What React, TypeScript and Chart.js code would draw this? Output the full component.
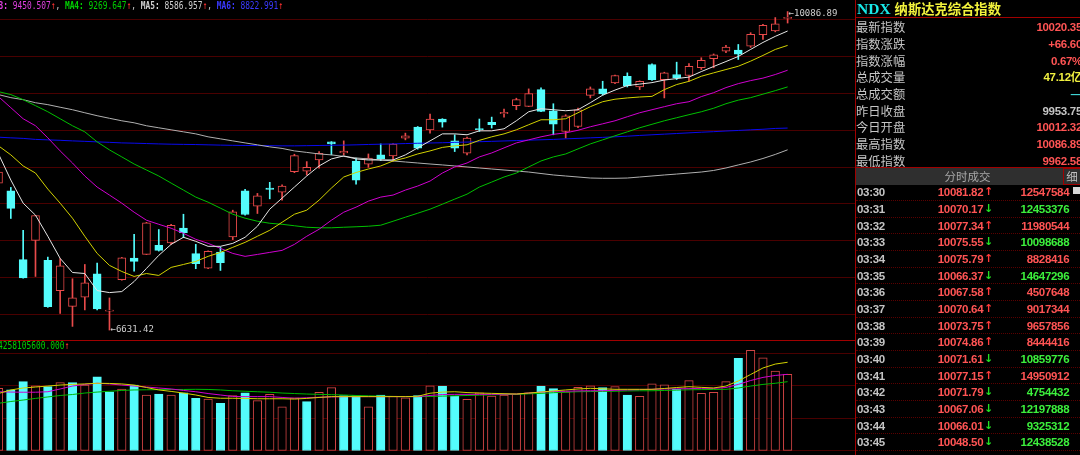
import React, { useEffect, useRef } from "react";
import { Chart, registerables } from "chart.js";

Chart.register(...registerables);

// ---------------- price candles (daily) ----------------
const OPEN = [8226, 8142, 7395, 7605, 7387, 7060, 6889, 6987, 7242, 6837, 7177, 7412, 7452, 7551, 7576, 7739, 7460, 7303, 7478, 7641, 8142, 7976, 8172, 8128, 8350, 8354, 8477, 8673, 8553, 8466, 8430, 8532, 8521, 8714, 8833, 8804, 8921, 8684, 8550, 8818, 8884, 8978, 9066, 9058, 9240, 9011, 8786, 8840, 9178, 9248, 9313, 9385, 9269, 9513, 9349, 9404, 9393, 9477, 9575, 9657, 9668, 9712, 9836, 9876, 10012.32];
const HIGH = [8390, 8179, 7714, 7876, 7423, 7406, 7188, 7343, 7358, 6980, 7420, 7670, 7800, 7722, 7779, 7888, 7561, 7490, 7532, 7932, 8158, 8114, 8234, 8208, 8539, 8459, 8568, 8676, 8684, 8496, 8542, 8651, 8655, 8768, 8840, 8975, 8925, 8750, 8724, 8921, 8942, 9030, 9147, 9248, 9259, 9087, 8968, 9041, 9269, 9331, 9398, 9422, 9336, 9520, 9429, 9538, 9523, 9586, 9627, 9720, 9730, 9858, 9948, 10022, 10086.89];
const LOW = [8194, 7842, 7195, 7213, 6878, 6813, 6671, 6850, 6850, 6631.42, 7172, 7270, 7450, 7488, 7561, 7634, 7297, 7298, 7278, 7613, 7877, 7896, 8055, 8041, 8339, 8314, 8387, 8532, 8532, 8215, 8397, 8469, 8463, 8695, 8594, 8768, 8833, 8568, 8532, 8786, 8823, 8942, 9022, 9055, 9000, 8750, 8714, 8826, 9150, 9180, 9305, 9269, 9240, 9341, 9150, 9349, 9331, 9458, 9477, 9640, 9567, 9698, 9785, 9867, 9962.58];
const CLOSE = [8346, 7951, 7198, 7874, 6886, 7329, 6980, 7144, 6861, 6847, 7416, 7376, 7794, 7496, 7769, 7689, 7351, 7485, 7362, 7914, 7885, 8088, 8158, 8194, 8524, 8397, 8550, 8651, 8572, 8259, 8496, 8491, 8648, 8739, 8605, 8921, 8888, 8605, 8714, 8804, 8859, 8993, 9131, 9196, 9004, 8866, 8957, 9022, 9248, 9193, 9393, 9284, 9331, 9349, 9422, 9368, 9494, 9559, 9618, 9701, 9625, 9840, 9938, 9953.75, 10020.35];

// ---------------- moving averages ----------------
const MA1 = [8542, 8259, 8008, 7878, 7649, 7409, 7256, 7245, 7060, 7038, 7049, 7158, 7300, 7442, 7561, 7638, 7594, 7540, 7540, 7572, 7638, 7758, 7943, 8063, 8183, 8303, 8412, 8488, 8521, 8488, 8477, 8477, 8477, 8532, 8608, 8684, 8760, 8760, 8750, 8793, 8793, 8815, 8902, 9000, 9033, 9022, 9011, 9022, 9098, 9180, 9235, 9284, 9300, 9316, 9344, 9360, 9376, 9436, 9491, 9545, 9600, 9676, 9752, 9818, 9876];
const MA2 = [8630, 8532, 8412, 8335, 8161, 8008, 7845, 7649, 7463, 7333, 7267, 7213, 7245, 7224, 7311, 7343, 7376, 7431, 7474, 7529, 7583, 7649, 7714, 7801, 7888, 7932, 8041, 8172, 8292, 8341, 8379, 8412, 8466, 8499, 8542, 8575, 8613, 8630, 8641, 8690, 8728, 8760, 8804, 8859, 8913, 8913, 8924, 8989, 9055, 9109, 9136, 9150, 9160, 9167, 9240, 9295, 9330, 9385, 9422, 9458, 9494, 9549, 9611, 9676, 9720];
const MA3 = [9164, 9044, 8924, 8848, 8717, 8575, 8444, 8303, 8183, 8096, 8008, 7910, 7823, 7779, 7736, 7681, 7616, 7572, 7518, 7463, 7431, 7452, 7474, 7496, 7561, 7649, 7725, 7823, 7910, 7965, 8030, 8074, 8096, 8150, 8194, 8248, 8335, 8401, 8444, 8510, 8553, 8608, 8662, 8695, 8728, 8755, 8771, 8799, 8837, 8869, 8902, 8946, 8989, 9022, 9055, 9087, 9109, 9164, 9207, 9262, 9305, 9338, 9365, 9404, 9450.507];
const MA4 = [9218, 9186, 9131, 9066, 9000, 8924, 8848, 8782, 8673, 8586, 8510, 8433, 8368, 8303, 8226, 8150, 8074, 8019, 7954, 7888, 7845, 7812, 7790, 7779, 7763, 7747, 7741, 7741, 7747, 7752, 7758, 7769, 7812, 7856, 7899, 7943, 7997, 8052, 8106, 8183, 8237, 8292, 8335, 8401, 8466, 8510, 8542, 8597, 8651, 8695, 8739, 8782, 8826, 8864, 8902, 8935, 8968, 9000, 9038, 9087, 9126, 9153, 9191, 9229, 9269.647];
const MA5 = [9186, 9153, 9131, 9098, 9077, 9049, 9022, 8989, 8957, 8929, 8902, 8880, 8848, 8826, 8804, 8782, 8760, 8728, 8706, 8684, 8662, 8641, 8619, 8602, 8575, 8559, 8542, 8532, 8515, 8499, 8488, 8477, 8466, 8455, 8444, 8433, 8423, 8412, 8401, 8390, 8379, 8368, 8357, 8346, 8330, 8314, 8303, 8292, 8281, 8278, 8278, 8281, 8292, 8303, 8314, 8324, 8335, 8346, 8363, 8390, 8423, 8455, 8493, 8537, 8586.957];
const MA6 = [8724, 8717, 8711, 8700, 8695, 8690, 8684, 8679, 8673, 8668, 8662, 8659, 8655, 8651, 8648, 8646, 8644, 8641, 8638, 8636, 8634, 8633, 8632, 8630, 8630, 8632, 8634, 8636, 8638, 8641, 8645, 8648, 8651, 8655, 8658, 8661, 8664, 8668, 8671, 8675, 8679, 8683, 8687, 8692, 8696, 8700, 8706, 8711, 8717, 8722, 8728, 8735, 8743, 8750, 8757, 8764, 8771, 8778, 8784, 8791, 8797, 8804, 8810, 8819, 8822.991];

// ---------------- volume (亿) ----------------
const VOLUME = [38.5, 37.5, 42.6, 40.1, 39.5, 42.0, 42.0, 40.5, 45.6, 36.4, 38.1, 40.5, 34.4, 35.0, 34.4, 35.8, 32.4, 31.9, 29.3, 34.0, 35.8, 30.9, 34.8, 27.2, 32.7, 30.3, 36.1, 38.9, 34.0, 34.0, 27.2, 34.4, 33.8, 32.7, 34.0, 40.1, 39.9, 33.8, 31.8, 35.8, 33.8, 34.4, 35.0, 35.8, 39.9, 38.3, 36.4, 39.1, 40.1, 38.9, 39.5, 34.4, 33.6, 41.2, 40.7, 37.9, 43.2, 35.4, 36.1, 42.6, 56.9, 61.9, 57.3, 49.1, 47.12];
const VMA1 = [35.3, 37.5, 38.7, 39.3, 39.9, 40.5, 40.9, 41.2, 41.6, 41.5, 41.2, 40.5, 39.0, 37.5, 36.6, 35.6, 34.4, 32.9, 32.4, 32.4, 32.3, 32.1, 32.1, 32.1, 31.9, 32.3, 32.9, 33.4, 33.4, 33.4, 33.4, 33.4, 33.4, 33.4, 33.6, 35.5, 36.2, 36.4, 35.9, 35.6, 35.4, 35.2, 35.0, 35.6, 36.2, 36.9, 37.5, 38.1, 38.5, 38.2, 37.9, 37.9, 37.9, 37.9, 38.4, 39.0, 39.5, 39.1, 38.7, 39.9, 43.0, 47.0, 51.0, 53.4, 54.5];
const VMA2 = [36.4, 36.2, 36.1, 36.1, 36.4, 38.1, 39.9, 40.9, 41.6, 41.2, 40.5, 39.9, 39.3, 38.7, 38.1, 37.2, 36.4, 35.3, 34.4, 33.5, 33.4, 33.4, 33.4, 32.9, 32.4, 32.7, 33.0, 33.2, 33.4, 33.4, 33.4, 33.4, 33.4, 33.4, 33.4, 34.1, 34.7, 34.8, 34.8, 34.8, 34.8, 34.9, 35.0, 35.6, 36.2, 36.6, 36.7, 36.9, 37.0, 37.0, 37.3, 37.5, 37.7, 37.9, 38.1, 38.2, 38.3, 38.5, 38.5, 39.0, 40.9, 43.3, 45.2, 46.4, 47.1];
const VMA3 = [29.3, 30.4, 31.3, 32.3, 33.2, 34.1, 34.7, 35.6, 36.2, 36.7, 37.2, 37.5, 37.6, 37.7, 37.8, 37.8, 37.9, 37.8, 37.5, 37.0, 36.7, 36.4, 36.1, 35.6, 35.3, 35.0, 34.8, 34.6, 34.4, 34.1, 33.9, 33.7, 33.5, 33.4, 33.4, 33.5, 33.7, 33.9, 34.1, 34.3, 34.5, 34.7, 34.8, 35.1, 35.4, 35.8, 36.1, 36.4, 36.5, 36.6, 36.7, 36.9, 37.0, 37.0, 37.2, 37.4, 37.6, 37.7, 37.8, 37.9, 38.7, 39.9, 40.9, 41.6, 42.581056];

// gridline levels
const PRICE_GRID = [6800, 7200, 7600, 8000, 8400, 8800, 9200, 9600, 10000];
const VOLUME_GRID = [0, 20, 40, 60];

// legend
const MA_NAMES = ["MA3", "MA4", "MA5", "MA6"];
const MA_LAST = [MA3[MA3.length - 1], MA4[MA4.length - 1], MA5[MA5.length - 1], MA6[MA6.length - 1]];

// right panel
const INFO_LABELS = ["最新指数", "指数涨跌", "指数涨幅", "总成交量", "总成交额", "昨日收盘", "今日开盘", "最高指数", "最低指数"];
const INFO_VALUES = ["10020.35", "+66.60", "0.67%", "47.12亿", "—", "9953.75", "10012.32", "10086.89", "9962.58"];
const TRADE_TIMES = ["03:30", "03:31", "03:32", "03:33", "03:34", "03:35", "03:36", "03:37", "03:38", "03:39", "03:40", "03:41", "03:42", "03:43", "03:44", "03:45"];
const TRADE_PRICES = [10081.82, 10070.17, 10077.34, 10075.55, 10075.79, 10066.37, 10067.58, 10070.64, 10073.75, 10074.86, 10071.61, 10077.15, 10071.79, 10067.06, 10066.01, 10048.5];
const TRADE_VOLUMES = [12547584, 12453376, 11980544, 10098688, 8828416, 14647296, 4507648, 9017344, 9657856, 8444416, 10859776, 14950912, 4754432, 12197888, 9325312, 12438528];
const TRADE_UP = [true, false, true, false, true, false, true, true, true, true, false, true, false, false, false, false];

// ---------------- styling ----------------
const X_MIN = 0.1217;
const X_MAX = 69.465;
const PRICE_MIN = 6523.5;
const PRICE_MAX = 10212.5;
const VOL_MIN = -2.46;
const VOL_MAX = 67.57;
const RED = "#e84a4a";
const VRED = "#d24444";
const CYAN = "#54fcfc";
const GRID = "#4a0000";
const BORDER = "#a00000";
const TXT_RED = "#ff5454";
const TXT_GREEN = "#3cf03c";
const TXT_GRAY = "#c4c4c4";
const MA_COLORS = ["#e6e6e6", "#d2d200", "#d000d0", "#00c000", "#b0b0b0", "#0a0aee"];
const LEGEND_COLORS = ["#e040e0", "#00d000", "#d0d0d0", "#3a3aff"];
const VMA_COLORS = ["#d2d200", "#d000d0", "#00b800"];
const INFO_COLORS = [TXT_RED, TXT_RED, TXT_RED, "#f0f040", "#40d8d8", TXT_GRAY, TXT_RED, TXT_RED, TXT_RED];

const IDX = OPEN.map((_, i) => i);

function lineDataset(label: string, data: number[], color: string) {
  return {
    type: "line" as const,
    label,
    data: data.map((v, i) => ({ x: i, y: v })),
    borderColor: color,
    borderWidth: 1,
    pointRadius: 0,
    tension: 0,
    fill: false,
    order: 0,
  };
}

const extremeLabels = {
  id: "extremeLabels",
  afterDatasetsDraw(chart: any) {
    const { ctx } = chart;
    const xs = chart.scales.x;
    const ys = chart.scales.y;
    let hi = 0;
    let lo = 0;
    HIGH.forEach((v, i) => { if (v > HIGH[hi]) hi = i; });
    LOW.forEach((v, i) => { if (v < LOW[lo]) lo = i; });
    ctx.save();
    ctx.font = '9px "DejaVu Sans Mono"';
    ctx.fillStyle = "#cfcfcf";
    ctx.textBaseline = "middle";
    ctx.fillText("←" + HIGH[hi].toFixed(2), xs.getPixelForValue(hi) + 1, ys.getPixelForValue(HIGH[hi]) + 2);
    ctx.fillText("←" + LOW[lo].toFixed(2), xs.getPixelForValue(lo) + 1, ys.getPixelForValue(LOW[lo]));
    ctx.restore();
  },
};

function xScale() {
  return { type: "linear" as const, min: X_MIN, max: X_MAX, display: false, offset: false, grid: { offset: false } };
}

export default function App() {
  const priceRef = useRef<HTMLCanvasElement>(null);
  const volRef = useRef<HTMLCanvasElement>(null);

  useEffect(() => {
    const up = (i: number) => CLOSE[i] >= OPEN[i];
    const priceChart = new Chart(priceRef.current as HTMLCanvasElement, {
      type: "bar",
      data: {
        datasets: [
          lineDataset("MA1", MA1, MA_COLORS[0]),
          lineDataset("MA2", MA2, MA_COLORS[1]),
          lineDataset("MA3", MA3, MA_COLORS[2]),
          lineDataset("MA4", MA4, MA_COLORS[3]),
          lineDataset("MA5", MA5, MA_COLORS[4]),
          lineDataset("MA6", MA6, MA_COLORS[5]),
          {
            type: "bar",
            label: "body",
            data: IDX.map((i) => ({ x: i, y: [OPEN[i], CLOSE[i]] })),
            backgroundColor: IDX.map((i) => (up(i) ? "#000000" : CYAN)),
            borderColor: IDX.map((i) => (up(i) ? RED : CYAN)),
            borderWidth: 1,
            borderSkipped: false,
            barThickness: 8,
            minBarLength: 1,
            grouped: false,
            order: 1,
          } as any,
          {
            type: "bar",
            label: "wick",
            data: IDX.map((i) => ({ x: i, y: [LOW[i], HIGH[i]] })),
            backgroundColor: IDX.map((i) => (up(i) ? RED : CYAN)),
            borderWidth: 0,
            barThickness: 1,
            grouped: false,
            order: 2,
          } as any,
        ],
      },
      options: {
        responsive: false,
        animation: false,
        events: [],
        layout: { padding: 0 },
        plugins: { legend: { display: false }, tooltip: { enabled: false } },
        scales: {
          x: xScale(),
          y: {
            type: "linear",
            min: PRICE_MIN,
            max: PRICE_MAX,
            afterBuildTicks: (s: any) => { s.ticks = PRICE_GRID.map((v) => ({ value: v })); },
            ticks: { display: false },
            grid: { color: GRID, drawTicks: false, lineWidth: 1 },
            border: { display: false },
          },
        } as any,
      },
      plugins: [extremeLabels],
    } as any);

    const volUp = (i: number) => (i === 0 ? true : CLOSE[i] >= CLOSE[i - 1]);
    const volChart = new Chart(volRef.current as HTMLCanvasElement, {
      type: "bar",
      data: {
        datasets: [
          lineDataset("VMA1", VMA1, VMA_COLORS[0]),
          lineDataset("VMA2", VMA2, VMA_COLORS[1]),
          lineDataset("VMA3", VMA3, VMA_COLORS[2]),
          {
            type: "bar",
            label: "volume",
            data: IDX.map((i) => ({ x: i, y: VOLUME[i] })),
            backgroundColor: IDX.map((i) => (volUp(i) ? "#000000" : CYAN)),
            borderColor: IDX.map((i) => (volUp(i) ? VRED : CYAN)),
            borderWidth: 1,
            borderSkipped: false,
            barThickness: 8.5,
            grouped: false,
            order: 1,
          } as any,
        ],
      },
      options: {
        responsive: false,
        animation: false,
        events: [],
        layout: { padding: 0 },
        plugins: { legend: { display: false }, tooltip: { enabled: false } },
        scales: {
          x: xScale(),
          y: {
            type: "linear",
            min: VOL_MIN,
            max: VOL_MAX,
            afterBuildTicks: (s: any) => { s.ticks = VOLUME_GRID.map((v) => ({ value: v })); },
            ticks: { display: false },
            grid: { color: GRID, drawTicks: false, lineWidth: 1 },
            border: { display: false },
          },
        } as any,
      },
    } as any);

    return () => {
      priceChart.destroy();
      volChart.destroy();
    };
  }, []);

  const monoLegend: React.CSSProperties = {
    position: "absolute",
    whiteSpace: "pre",
    font: '10.5px "DejaVu Sans Mono", monospace',
    lineHeight: "11px",
    transform: "scaleX(0.75)",
    transformOrigin: "0 0",
  };
  const num: React.CSSProperties = {
    fontFamily: '"Liberation Sans", Arial, sans-serif',
    fontWeight: "bold",
    fontSize: "11.5px",
    letterSpacing: "-0.3px",
  };
  const rowH = 16.67;

  return (
    <div style={{ position: "fixed", left: 0, top: 0, width: 1080, height: 455, background: "#000", overflow: "hidden" }}>
      {/* main chart */}
      <canvas ref={priceRef} width={855} height={340} style={{ position: "absolute", left: 0, top: 0, width: 855, height: 340 }} />
      <canvas ref={volRef} width={855} height={114} style={{ position: "absolute", left: 0, top: 341, width: 855, height: 114 }} />

      {/* MA legend */}
      <div style={{ ...monoLegend, left: -11, top: 0 }}>
        {MA_NAMES.map((n, k) => (
          <span key={n}>
            <span style={{ color: LEGEND_COLORS[k], fontWeight: "bold" }}>{n}:</span>
            <span style={{ color: LEGEND_COLORS[k] }}> {MA_LAST[k].toFixed(3)}</span>
            <span style={{ color: "#ff3030" }}>↑</span>
            {k < MA_NAMES.length - 1 ? <span style={{ color: TXT_GRAY }}>, </span> : null}
          </span>
        ))}
      </div>

      {/* volume legend */}
      <div style={{ ...monoLegend, left: -2.5, top: 340 }}>
        <span style={{ color: "#00d000" }}>{(VMA3[VMA3.length - 1] * 1e8).toFixed(3)}</span>
        <span style={{ color: "#ff3030" }}>↑</span>
      </div>

      {/* borders */}
      <div style={{ position: "absolute", left: 0, top: 340, width: 856, height: 1, background: BORDER }} />
      <div style={{ position: "absolute", left: 855, top: 0, width: 1, height: 455, background: BORDER }} />

      {/* right panel */}
      <div style={{ position: "absolute", left: 856, top: 0, width: 224, height: 455, overflow: "hidden" }}>
        <div style={{ position: "absolute", left: 1, top: 0, height: 17, whiteSpace: "nowrap", lineHeight: "17px" }}>
          <span style={{ fontFamily: '"Liberation Serif", serif', fontWeight: "bold", fontSize: "15.5px", color: "#18e8e8" }}>NDX</span>
          <span style={{ fontFamily: '"Noto Sans CJK SC", sans-serif', fontWeight: "bold", fontSize: "13.3px", color: "#f2f23c", marginLeft: 4 }}>纳斯达克综合指数</span>
        </div>
        <div style={{ position: "absolute", left: 0, top: 17, width: 224, height: 1, background: BORDER }} />

        {INFO_LABELS.map((lab, k) => (
          <div key={lab} style={{ position: "absolute", left: 0, top: 19.2 + k * rowH, width: 226, height: rowH, lineHeight: rowH + "px" }}>
            <span style={{ position: "absolute", left: 0, fontFamily: '"Noto Sans CJK SC", sans-serif', fontSize: "12.3px", color: TXT_GRAY }}>{lab}</span>
            <span style={{ ...num, position: "absolute", right: 0, color: INFO_COLORS[k], fontFamily: INFO_VALUES[k].includes("亿") ? '"Liberation Sans", "Noto Sans CJK SC", sans-serif' : num.fontFamily }}>{INFO_VALUES[k]}</span>
          </div>
        ))}

        <div style={{ position: "absolute", left: 0, top: 167, width: 224, height: 1, background: BORDER }} />
        <div style={{ position: "absolute", left: 0, top: 168, width: 207, height: 17, background: "#2f2f2f", color: "#a8a8a8", fontFamily: '"Noto Sans CJK SC", sans-serif', fontSize: "11.5px", lineHeight: "17px", textAlign: "center" }}>
          <span style={{ position: "relative", left: 8 }}>分时成交</span>
        </div>
        <div style={{ position: "absolute", left: 207, top: 168, width: 17, height: 17, boxSizing: "border-box", borderLeft: "1px solid " + BORDER, borderTop: "1px solid " + BORDER, borderBottom: "1px solid " + BORDER, background: "#2f2f2f", color: "#c0c0c0", fontFamily: '"Noto Sans CJK SC", sans-serif', fontSize: "11.5px", lineHeight: "15px", textAlign: "center" }}>细</div>
        <div style={{ position: "absolute", left: 217, top: 187, width: 7, height: 7, background: "#d8d8d8" }} />

        {TRADE_TIMES.map((t, k) => (
          <div key={t} style={{ position: "absolute", left: 0, top: 184.4 + k * rowH, width: 224, height: rowH, lineHeight: rowH + "px", boxSizing: "border-box", borderBottom: "1px dotted #5a0000" }}>
            <span style={{ ...num, position: "absolute", left: 1, color: TXT_GRAY }}>{t}</span>
            <span style={{ ...num, position: "absolute", right: 96.7, color: TXT_RED }}>{TRADE_PRICES[k].toFixed(2)}</span>
            <span style={{ position: "absolute", left: 128, fontFamily: '"DejaVu Sans", sans-serif', fontWeight: "bold", fontSize: "11px", color: TRADE_UP[k] ? "#ff3a3a" : "#22e022" }}>{TRADE_UP[k] ? "↑" : "↓"}</span>
            <span style={{ ...num, position: "absolute", right: 10.7, color: TRADE_UP[k] ? TXT_RED : TXT_GREEN }}>{TRADE_VOLUMES[k]}</span>
          </div>
        ))}
      </div>
    </div>
  );
}
